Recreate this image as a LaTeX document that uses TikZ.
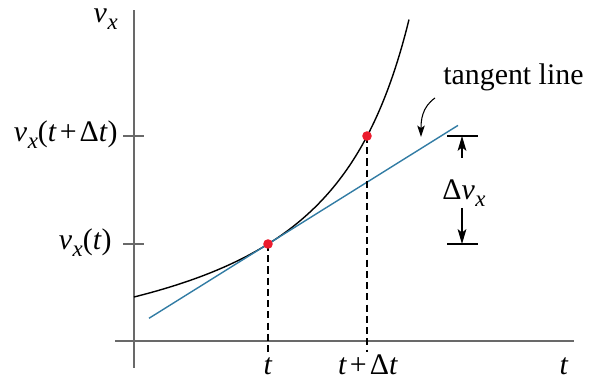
\documentclass[tikz,border=0pt]{standalone}
\usepackage{fontspec}
\setmainfont{Liberation Serif}
\usetikzlibrary{arrows.meta}
\definecolor{tanblue}{RGB}{50,124,164}
\definecolor{dotred}{RGB}{236,28,46}
\definecolor{axisgray}{RGB}{105,105,105}
\newcommand{\vel}{\textit{v}\kern0.02em\raisebox{-0.22em}{\fontsize{13}{15}\selectfont\textit{x}}}
\newcommand{\tplus}{\textit{t}\kern0.1em+\kern0.1em Δ\textit{t}}
\tikzset{
  axisline/.style={axisgray,line width=1.1pt},
  dropline/.style={dash pattern=on 4pt off 2.4pt,line width=0.7pt},
  dimtip/.style={-{Stealth[length=8.5pt,width=5pt,inset=2pt]},line width=0.6pt},
  axislabel/.style={inner sep=0pt},
}
\begin{document}
\begin{tikzpicture}[x=0.02cm,y=0.02cm,font=\fontsize{17}{20}\selectfont]
  \useasboundingbox (-134,-40) rectangle (458,341);
  % axes and ticks
  \draw[axisline] (-19,0)--(440,0);
  \draw[axisline] (0,-27)--(0,331);
  \foreach \level in {97,205}
    \draw[axisline] (-11,\level)--(10,\level);
  \node (vx) [axislabel,anchor=base east] at (-16,318) {\vel};
  \node (vxdt) [axislabel,anchor=base east] at (-16,199) {\vel(\tplus)};
  \node (vxt) [axislabel,anchor=base east] at (-22,91) {\vel(\textit{t})};
  \node (tlbl) [axislabel,anchor=base] at (134,-34) {\textit{t}};
  \node (tdtlbl) [axislabel,anchor=base] at (234,-34) {\tplus};
  \node (taxis) [axislabel,anchor=base] at (430,-34) {\textit{t}};
  % curve and its tangent at t
  \draw[line width=0.8pt] plot[domain=0:275,samples=120] (\x,{-47.6+334.9/(3.656-0.01*\x)});
  \coordinate (tanA) at (15,22.7);
  \coordinate (tanB) at (324,215.6);
  \draw[tanblue,line width=0.8pt] (tanA)--(tanB);
  % the two instants
  \coordinate (P1) at (134,97);
  \coordinate (P2) at (233,205);
  \coordinate (base) at (0,-11);
  \foreach \pt in {P1,P2}
    \draw[dropline] (\pt)--(\pt |- base);
  \foreach \pt in {P1,P2}
    \fill[dotred] (\pt) circle (4.8);
  % change of v_x along the tangent
  \draw[line width=0.7pt] (313,205)--(344,205) (313,97)--(344,97);
  \node (dvx) [axislabel] at (330,148) {Δ\vel};
  \coordinate (dtop) at (328,205);
  \coordinate (dbot) at (328,97);
  \coordinate (dupS) at (328,183);
  \coordinate (dlowS) at (328,133);
  \draw[dimtip] (dupS)--(dtop);
  \draw[dimtip] (dlowS)--(dbot);
  % label for the tangent
  \node (tanlbl) [axislabel,anchor=base west] at (309,256) {tangent line};
  \coordinate (tanpt) at (287,204);
  \draw[-{Stealth[length=6.5pt,width=4.2pt,inset=1.5pt]},line width=0.6pt]
    ([shift={(-8,-13)}]tanlbl.base west) to[out=215,in=90] (tanpt);
\end{tikzpicture}
\end{document}
